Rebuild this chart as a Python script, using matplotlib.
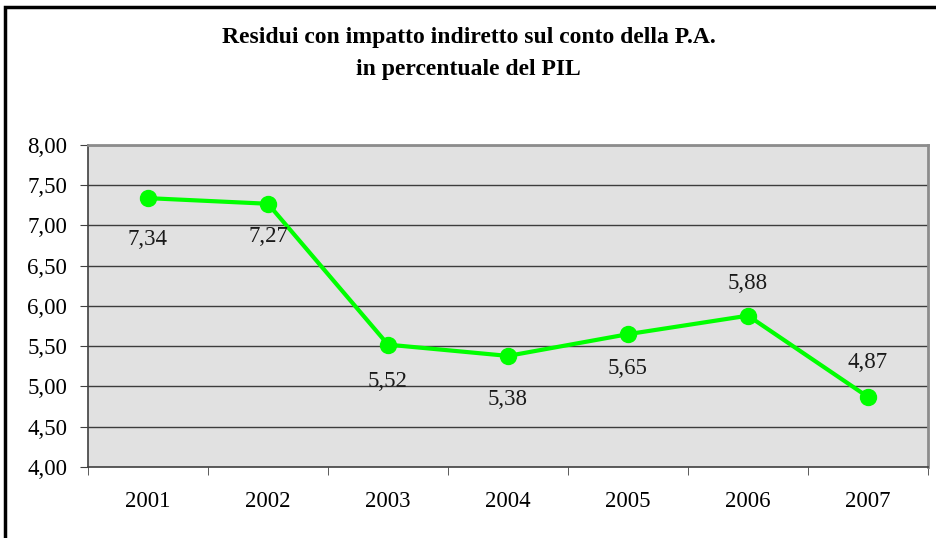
import matplotlib.pyplot as plt
from matplotlib.patches import Rectangle

plt.rcParams['font.family'] = ['Liberation Serif', 'DejaVu Serif']

# Data
years = ['2001', '2002', '2003', '2004', '2005', '2006', '2007']
values = [7.34, 7.27, 5.52, 5.38, 5.65, 5.88, 4.87]
labels = ['7,34', '7,27', '5,52', '5,38', '5,65', '5,88', '4,87']
# label offsets in pixels (negative = below the point)
labelOffsets = [-41, -33, -37, -44, -34, 32, 34]

W, H = 937, 538
fig = plt.figure(figsize=(W / 100, H / 100), dpi=100)
ax = fig.add_axes([88 / W, 1 - 467 / H, 840 / W, 322 / H])

x = list(range(len(years)))
ax.set_facecolor('#e1e1e1')
ax.set_xlim(-0.5, len(years) - 0.5)
ax.set_ylim(4.0, 8.0)

yticks = [4.0 + 0.5 * i for i in range(9)]
ax.set_yticks(yticks)
ax.set_yticklabels([f'{v:.2f}'.replace('.', ',') for v in yticks])
for v in yticks[1:]:
    ax.axhline(v, color='#3c3c3c', linewidth=1.0, zorder=1)

ax.set_xticks(x)
ax.set_xticklabels(years)
ax.set_xticks([i - 0.5 for i in range(len(years) + 1)], minor=True)
ax.tick_params(axis='x', which='major', length=0, pad=17, labelsize=16.5)
ax.tick_params(axis='x', which='minor', length=6, color='#404040', direction='out')
ax.tick_params(axis='y', length=6, color='#404040', pad=9, labelsize=16.5)

for side in ['left', 'bottom']:
    ax.spines[side].set_color('#404040')
    ax.spines[side].set_linewidth(1.2)
ax.spines['right'].set_color('#8c8c8c')
ax.spines['right'].set_linewidth(2)
ax.spines['top'].set_color('#8c8c8c')
ax.spines['top'].set_linewidth(2)

ax.plot(x, values, color='#00ff00', linewidth=3, marker='o', markersize=11.5, zorder=3)

for xi, v, lab, off in zip(x, values, labels, labelOffsets):
    ax.annotate(lab, (xi, v), xytext=(0, off), textcoords='offset pixels',
                ha='center', va='center', fontsize=16.5, color='#1a1a1a')

fig.text(0.5, 1 - 38 / H, 'Residui con impatto indiretto sul conto della P.A.',
         ha='center', va='center', fontsize=17, fontweight='bold')
fig.text(0.5, 1 - 70 / H, 'in percentuale del PIL',
         ha='center', va='center', fontsize=17, fontweight='bold')

# outer chart border (clipped at right/bottom like the original)
fig.patches.append(Rectangle((5 / W, -0.05), 1.0, 1 - 7 / H + 0.05,
                             transform=fig.transFigure, fill=False,
                             edgecolor='black', linewidth=2.5))

fig.savefig('out.png', dpi=100)
